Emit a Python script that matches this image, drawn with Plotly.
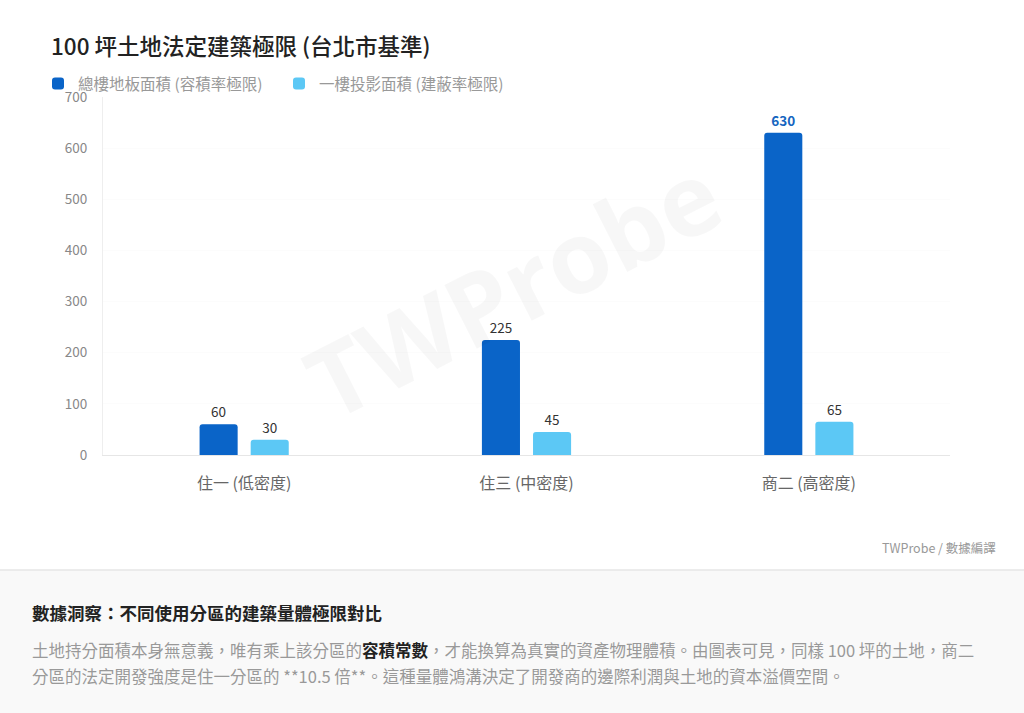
import plotly.graph_objects as go

categories = ["住一 (低密度)", "住三 (中密度)", "商二 (高密度)"]
series_names = ["總樓地板面積 (容積率極限)", "一樓投影面積 (建蔽率極限)"]
gross_floor_area = [60, 225, 630]
footprint_area = [30, 45, 65]
y_ticks = [0, 100, 200, 300, 400, 500, 600, 700]

W, H = 1024, 713
ML, MR, MT, MB = 103, 74, 97, 258
PW, PH = W - ML - MR, H - MT - MB

def px(x):
    return (x - ML) / PW

def py(y):
    return (H - MB - y) / PH

FONT = "Noto Sans CJK TC, Noto Sans, sans-serif"
DARK = "#0a64c8"
LIGHT = "#5cc8f5"

max_v = max(gross_floor_area)
text1 = [f"<b>{v}</b>" if v == max_v else str(v) for v in gross_floor_area]
col1 = ["#1565c0" if v == max_v else "#333333" for v in gross_floor_area]

fig = go.Figure()
fig.add_trace(go.Bar(
    x=categories, y=gross_floor_area, name=series_names[0],
    marker=dict(color=DARK, line=dict(width=0)),
    text=text1, textposition="outside", cliponaxis=False,
    textfont=dict(color=col1, size=13.5, family=FONT),
))
fig.add_trace(go.Bar(
    x=categories, y=footprint_area, name=series_names[1],
    marker=dict(color=LIGHT, line=dict(width=0)),
    text=[str(v) for v in footprint_area], textposition="outside", cliponaxis=False,
    textfont=dict(color="#333333", size=13.5, family=FONT),
))

shapes = [
    dict(type="rect", xref="paper", yref="paper", x0=px(0), x1=px(W), y0=py(H), y1=py(570),
         fillcolor="#f9f9f9", line=dict(width=0), layer="below"),
    dict(type="line", xref="paper", yref="paper", x0=px(0), x1=px(W), y0=py(570), y1=py(570),
         line=dict(color="#e6e6e6", width=1.5), layer="below"),
]

annotations = [
    dict(text="TWProbe", x=px(512), y=py(287), xref="paper", yref="paper", showarrow=False,
         textangle=-27, font=dict(size=100, color="rgba(0,0,0,0.03)", family="Open Sans, sans-serif", weight="bold")),
    dict(text="100 坪土地法定建築極限 (台北市基準)", x=px(49), y=py(45), xref="paper", yref="paper",
         xanchor="left", yanchor="middle", showarrow=False,
         font=dict(size=22.5, color="#222222", family=FONT, weight=500)),
    dict(text="TWProbe / 數據編譯", x=px(998), y=py(547), xref="paper", yref="paper",
         xanchor="right", yanchor="middle", showarrow=False,
         font=dict(size=12.5, color="#999999", family=FONT)),
    dict(text="<b>數據洞察：不同使用分區的建築量體極限對比</b>", x=px(30), y=py(612), xref="paper", yref="paper",
         xanchor="left", yanchor="middle", showarrow=False,
         font=dict(size=17.5, color="#222222", family=FONT)),
    dict(text="土地持分面積本身無意義，唯有乘上該分區的<span style='color:#222222'><b>容積常數</b></span>，才能換算為真實的資產物理體積。由圖表可見，同樣 100 坪的土地，商二",
         x=px(30), y=py(650), xref="paper", yref="paper",
         xanchor="left", yanchor="middle", showarrow=False,
         font=dict(size=16.5, color="#999999", family=FONT)),
    dict(text="分區的法定開發強度是住一分區的 **10.5 倍**。這種量體鴻溝決定了開發商的邊際利潤與土地的資本溢價空間。",
         x=px(30), y=py(676), xref="paper", yref="paper",
         xanchor="left", yanchor="middle", showarrow=False,
         font=dict(size=16.5, color="#999999", family=FONT)),
]

fig.update_layout(
    width=W, height=H,
    margin=dict(l=ML, r=MR, t=MT, b=MB, pad=0),
    paper_bgcolor="white", plot_bgcolor="white",
    barmode="group", bargap=0.638, bargroupgap=0.255, barcornerradius=3,
    font=dict(family=FONT, color="#888888"),
    showlegend=True,
    legend=dict(orientation="h", x=px(38), y=py(84), xanchor="left", yanchor="middle",
                font=dict(size=15.5, color="#999999", family=FONT),
                entrywidth=196, entrywidthmode="pixels", itemwidth=30,
                bgcolor="rgba(0,0,0,0)", traceorder="normal"),
    shapes=shapes,
    annotations=annotations,
    xaxis=dict(showline=True, linecolor="#e6e6e6", linewidth=1, ticks="",
               tickfont=dict(size=16, color="#666666", family=FONT), showgrid=False,
               ticklabelstandoff=14, fixedrange=True),
    yaxis=dict(range=[0, 700], tickvals=y_ticks, showline=True, linecolor="#eeeeee", linewidth=1,
               ticks="", tickfont=dict(size=13.5, color="#888888", family=FONT),
               showgrid=True, gridcolor="#fcfcfc", zeroline=False, ticklabelstandoff=12),
)

fig.write_html("out.html")
